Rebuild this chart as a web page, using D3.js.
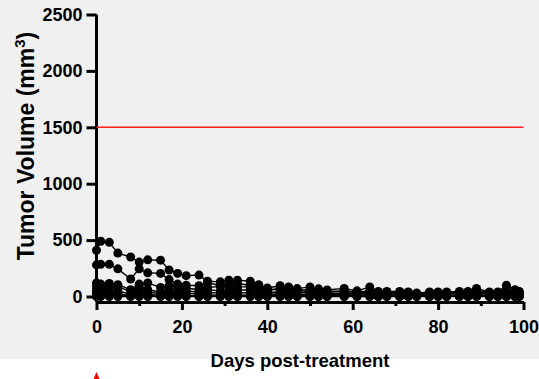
<!DOCTYPE html>
<html>
<head>
<meta charset="utf-8">
<script src="https://cdn.jsdelivr.net/npm/d3@7"></script>
<style>
  body { margin: 0; background: #fff; }
  svg { display: block; font-family: "Liberation Sans", Arial, sans-serif; }
  .axis path, .axis line { stroke: #000; stroke-width: 3; }
  .axis text { font-family: "Liberation Sans", Arial, sans-serif; font-size: 18px; font-weight: bold; fill: #000; }
</style>
</head>
<body>
<svg id="chart" width="539" height="379"></svg>
<script>
// measurement days (post-treatment)
const days = [0, 1, 3, 5, 8, 10, 12, 15, 17, 19, 21, 24, 26, 29, 31, 33, 36, 38, 40, 43, 45, 47,
  50, 52, 54, 58, 61, 64, 66, 68, 71, 73, 75, 78, 80, 82, 85, 87, 89, 92, 94, 96, 98, 99];

// tumour volume per mouse (mm3), one value per day
const mouseA = [410, 490, 480, 385, 350, 305, 325, 322, 235, 205, 185, 190, 135, 130, 145, 145, 135, 105, 75, 95, 85, 70,
  85, 68, 58, 72, 50, 85, 45, 45, 45, 40, 30, 40, 40, 40, 45, 45, 72, 40, 40, 100, 60, 45];
const mouseB = [280, 285, 285, 245, 155, 245, 210, 205, 150, 110, 100, 95, 120, 100, 110, 115, 100, 80, 60, 70, 65, 55,
  60, 50, 45, 50, 40, 50, 35, 35, 38, 35, 25, 35, 35, 35, 40, 40, 50, 35, 35, 60, 45, 40];
const mouseC = [120, 110, 115, 105, 60, 110, 120, 80, 95, 90, 75, 60, 80, 90, 80, 85, 85, 70, 55, 65, 55, 50,
  45, 45, 40, 45, 35, 40, 30, 30, 32, 30, 22, 30, 30, 30, 32, 32, 35, 30, 30, 40, 35, 30];
const mouseD = [90, 95, 80, 90, 40, 95, 60, 40, 60, 55, 50, 40, 60, 50, 55, 60, 55, 45, 35, 40, 38, 35,
  32, 30, 28, 30, 25, 30, 22, 22, 25, 22, 18, 22, 22, 22, 25, 25, 28, 22, 22, 28, 25, 22];
const mouseE = [60, 70, 60, 50, 20, 70, 40, 25, 35, 40, 30, 25, 35, 30, 32, 35, 30, 25, 20, 22, 20, 18,
  18, 16, 15, 16, 14, 15, 12, 12, 12, 12, 10, 12, 12, 12, 14, 14, 15, 12, 12, 15, 14, 12];
const mouseF = [40, 35, 30, 25, 10, 40, 20, 10, 15, 18, 12, 10, 14, 12, 12, 14, 12, 10, 8, 9, 8, 8,
  7, 6, 6, 6, 5, 6, 5, 5, 5, 5, 4, 5, 5, 5, 5, 5, 6, 5, 5, 6, 5, 5];
const mouseG = [20, 15, 12, 10, 5, 15, 8, 5, 6, 6, 5, 4, 5, 4, 4, 4, 4, 3, 3, 3, 3, 2,
  2, 2, 2, 2, 2, 2, 1, 1, 1, 1, 1, 1, 1, 1, 1, 1, 1, 1, 1, 1, 1, 1];
const mouseH = days.map(() => 0);

const mice = [mouseA, mouseB, mouseC, mouseD, mouseE, mouseF, mouseG, mouseH];

const yTicks = [0, 500, 1000, 1500, 2000, 2500];
const xTicks = [0, 20, 40, 60, 80, 100];
const xMinorTicks = [10, 30, 50, 70, 90];
const endpoint = 1500;   // humane endpoint volume
const treatmentDays = [0];

const svg = d3.select('#chart');
const width = 539;

svg.append('rect')
  .attr('width', width)
  .attr('height', 359)
  .attr('fill', '#f0f0f0');

const x = d3.scaleLinear().domain([0, 100]).range([96.5, 523.5]);
const y = d3.scaleLinear().domain([0, 2500]).range([296.5, 14.5]);
const xAxisY = 302;

// y axis
const yAxis = svg.append('g')
  .attr('class', 'axis')
  .attr('transform', `translate(${x(0)},0)`)
  .call(d3.axisLeft(y).tickValues(yTicks).tickSize(10).tickSizeOuter(0).tickPadding(4).tickFormat(d3.format('d')));
yAxis.select('.domain').attr('d', `M0,${xAxisY}V${y(2500)}`);

// x axis (offset below zero)
svg.append('g')
  .attr('class', 'axis')
  .attr('transform', `translate(0,${xAxisY})`)
  .call(d3.axisBottom(x).tickValues(xTicks).tickSize(8).tickSizeOuter(0).tickPadding(10).tickFormat(d3.format('d')));

svg.append('g')
  .attr('class', 'axis')
  .attr('transform', `translate(0,${xAxisY})`)
  .call(d3.axisBottom(x).tickValues(xMinorTicks).tickSize(4).tickSizeOuter(0).tickFormat(''))
  .select('.domain').remove();

// endpoint line
svg.append('line')
  .attr('x1', x(0)).attr('x2', x(100))
  .attr('y1', y(endpoint)).attr('y2', y(endpoint))
  .attr('stroke', '#ff2020')
  .attr('stroke-width', 1.5);

// mice
const line = d3.line()
  .defined(d => d != null)
  .x((d, i) => x(days[i]))
  .y(d => y(d));

const groups = svg.append('g').selectAll('g').data(mice).join('g');

groups.append('path')
  .attr('d', d => line(d))
  .attr('fill', 'none')
  .attr('stroke', '#000')
  .attr('stroke-width', 1.4);

groups.selectAll('circle')
  .data(d => d.map((v, i) => ({ day: days[i], v })).filter(p => p.v != null))
  .join('circle')
  .attr('cx', p => x(p.day))
  .attr('cy', p => y(p.v))
  .attr('r', 4.5)
  .attr('fill', '#000');

// axis titles
svg.append('text')
  .attr('x', 300)
  .attr('y', 367)
  .attr('text-anchor', 'middle')
  .attr('font-size', 18.5)
  .attr('font-weight', 'bold')
  .text('Days post-treatment');

const yTitle = svg.append('text')
  .attr('transform', 'translate(34,146) rotate(-90)')
  .attr('text-anchor', 'middle')
  .attr('font-size', 23)
  .attr('font-weight', 'bold');
yTitle.append('tspan').text('Tumor Volume (mm');
yTitle.append('tspan').attr('font-size', 15).attr('dy', -9).text('3');
yTitle.append('tspan').attr('dy', 9).text(')');

// treatment marker
svg.selectAll('.treat')
  .data(treatmentDays)
  .join('path')
  .attr('class', 'treat')
  .attr('d', d => `M${x(d)},372L${x(d) + 3},379L${x(d) - 3},379Z`)
  .attr('fill', '#ff0000');
</script>
</body>
</html>
